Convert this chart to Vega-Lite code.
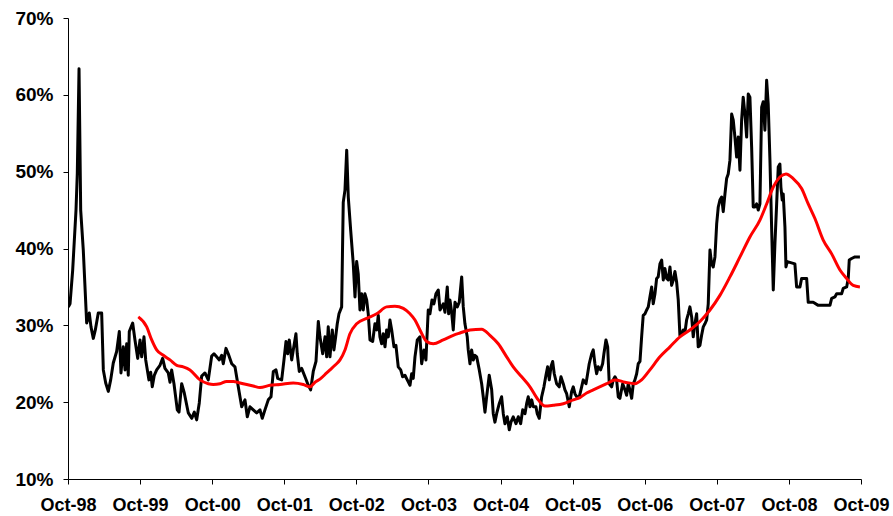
{
  "$schema": "https://vega.github.io/schema/vega-lite/v6.json",
  "width": 793,
  "height": 461,
  "autosize": {"type": "none"},
  "padding": {"left": 68, "top": 18, "right": 32, "bottom": 37},
  "background": "white",
  "config": {
    "view": {"stroke": null},
    "axis": {
      "labelFont": "Liberation Sans",
      "labelFontWeight": "bold",
      "labelColor": "black",
      "domainColor": "black",
      "domainWidth": 1,
      "tickColor": "black",
      "tickWidth": 1,
      "tickSize": 5,
      "grid": false,
      "title": null
    }
  },
  "datasets": {
    "weekly": [
      {"t":1998.754,"v":32.4},{"t":1998.778,"v":32.8},{"t":1998.815,"v":37.2},{"t":1998.861,"v":45.0},{"t":1998.879,"v":49.8},{"t":1998.903,"v":63.4},{"t":1998.926,"v":45.0},{"t":1998.962,"v":39.8},{"t":1999.009,"v":30.3},{"t":1999.045,"v":31.6},{"t":1999.069,"v":29.8},{"t":1999.101,"v":28.3},{"t":1999.129,"v":29.4},{"t":1999.170,"v":31.6},{"t":1999.217,"v":31.6},{"t":1999.240,"v":24.2},{"t":1999.273,"v":22.5},{"t":1999.309,"v":21.4},{"t":1999.342,"v":22.9},{"t":1999.378,"v":25.1},{"t":1999.425,"v":26.6},{"t":1999.462,"v":29.2},{"t":1999.485,"v":23.8},{"t":1999.517,"v":27.2},{"t":1999.541,"v":24.2},{"t":1999.564,"v":27.6},{"t":1999.586,"v":23.5},{"t":1999.600,"v":29.2},{"t":1999.647,"v":30.3},{"t":1999.679,"v":28.1},{"t":1999.717,"v":25.7},{"t":1999.749,"v":28.1},{"t":1999.772,"v":25.9},{"t":1999.804,"v":28.5},{"t":1999.828,"v":25.5},{"t":1999.873,"v":22.9},{"t":1999.897,"v":23.9},{"t":1999.919,"v":22.0},{"t":1999.947,"v":23.5},{"t":1999.980,"v":24.2},
      {"t":2000.026,"v":24.8},{"t":2000.063,"v":25.7},{"t":2000.095,"v":24.4},{"t":2000.141,"v":23.8},{"t":2000.165,"v":22.6},{"t":2000.188,"v":24.2},{"t":2000.220,"v":22.4},{"t":2000.266,"v":19.0},{"t":2000.290,"v":18.7},{"t":2000.327,"v":22.4},{"t":2000.363,"v":21.2},{"t":2000.419,"v":18.6},{"t":2000.466,"v":17.9},{"t":2000.502,"v":18.7},{"t":2000.535,"v":17.7},{"t":2000.571,"v":19.9},{"t":2000.604,"v":23.4},{"t":2000.650,"v":23.8},{"t":2000.696,"v":22.9},{"t":2000.743,"v":26.0},{"t":2000.775,"v":26.3},{"t":2000.812,"v":25.9},{"t":2000.849,"v":25.5},{"t":2000.882,"v":26.1},{"t":2000.904,"v":25.0},{"t":2000.941,"v":27.0},{"t":2000.973,"v":26.3},
      {"t":2001.021,"v":25.0},{"t":2001.066,"v":24.6},{"t":2001.112,"v":22.0},{"t":2001.159,"v":19.4},{"t":2001.205,"v":20.3},{"t":2001.237,"v":18.1},{"t":2001.274,"v":19.4},{"t":2001.320,"v":19.0},{"t":2001.367,"v":18.6},{"t":2001.413,"v":19.0},{"t":2001.445,"v":17.9},{"t":2001.482,"v":19.0},{"t":2001.528,"v":20.3},{"t":2001.566,"v":20.7},{"t":2001.598,"v":24.0},{"t":2001.635,"v":24.2},{"t":2001.659,"v":23.1},{"t":2001.714,"v":22.9},{"t":2001.746,"v":25.5},{"t":2001.774,"v":27.9},{"t":2001.797,"v":26.3},{"t":2001.819,"v":28.1},{"t":2001.853,"v":25.5},{"t":2001.875,"v":26.8},{"t":2001.912,"v":28.9},{"t":2001.930,"v":26.3},{"t":2001.958,"v":24.0},{"t":2001.991,"v":24.4},
      {"t":2002.037,"v":23.3},{"t":2002.083,"v":22.2},{"t":2002.116,"v":21.6},{"t":2002.152,"v":24.0},{"t":2002.190,"v":25.3},{"t":2002.222,"v":30.5},{"t":2002.245,"v":28.5},{"t":2002.283,"v":26.3},{"t":2002.315,"v":28.5},{"t":2002.338,"v":25.9},{"t":2002.360,"v":29.8},{"t":2002.384,"v":25.9},{"t":2002.416,"v":29.4},{"t":2002.439,"v":26.8},{"t":2002.463,"v":28.5},{"t":2002.485,"v":30.2},{"t":2002.509,"v":31.5},{"t":2002.546,"v":32.4},{"t":2002.568,"v":46.0},{"t":2002.592,"v":47.6},{"t":2002.616,"v":52.8},{"t":2002.638,"v":46.7},{"t":2002.671,"v":42.4},{"t":2002.707,"v":38.0},{"t":2002.731,"v":33.7},{"t":2002.754,"v":38.3},{"t":2002.776,"v":36.7},{"t":2002.800,"v":32.0},{"t":2002.824,"v":34.1},{"t":2002.846,"v":32.0},{"t":2002.869,"v":34.1},{"t":2002.893,"v":33.3},{"t":2002.915,"v":31.5},{"t":2002.939,"v":28.1},{"t":2002.976,"v":27.9},
      {"t":2003.008,"v":30.2},{"t":2003.032,"v":29.4},{"t":2003.054,"v":31.3},{"t":2003.077,"v":28.5},{"t":2003.101,"v":27.6},{"t":2003.123,"v":28.9},{"t":2003.147,"v":27.2},{"t":2003.170,"v":29.4},{"t":2003.193,"v":28.5},{"t":2003.216,"v":30.7},{"t":2003.240,"v":29.4},{"t":2003.272,"v":27.2},{"t":2003.299,"v":27.4},{"t":2003.331,"v":24.6},{"t":2003.365,"v":24.2},{"t":2003.392,"v":23.3},{"t":2003.424,"v":23.5},{"t":2003.456,"v":22.9},{"t":2003.494,"v":22.2},{"t":2003.517,"v":23.7},{"t":2003.539,"v":23.1},{"t":2003.563,"v":25.9},{"t":2003.595,"v":28.1},{"t":2003.632,"v":28.5},{"t":2003.656,"v":25.0},{"t":2003.688,"v":26.8},{"t":2003.715,"v":25.5},{"t":2003.747,"v":32.0},{"t":2003.771,"v":31.5},{"t":2003.799,"v":33.3},{"t":2003.826,"v":32.8},{"t":2003.854,"v":34.1},{"t":2003.886,"v":34.6},{"t":2003.910,"v":32.0},{"t":2003.933,"v":32.4},{"t":2003.955,"v":32.8},{"t":2003.979,"v":31.7},
      {"t":2004.011,"v":35.0},{"t":2004.030,"v":31.5},{"t":2004.048,"v":33.3},{"t":2004.072,"v":31.7},{"t":2004.094,"v":29.4},{"t":2004.118,"v":33.0},{"t":2004.150,"v":32.4},{"t":2004.177,"v":33.0},{"t":2004.211,"v":36.3},{"t":2004.233,"v":32.4},{"t":2004.256,"v":30.2},{"t":2004.288,"v":28.5},{"t":2004.302,"v":26.8},{"t":2004.326,"v":25.0},{"t":2004.349,"v":26.8},{"t":2004.372,"v":25.5},{"t":2004.395,"v":26.1},{"t":2004.419,"v":25.9},{"t":2004.455,"v":24.2},{"t":2004.488,"v":22.4},{"t":2004.510,"v":20.7},{"t":2004.534,"v":18.7},{"t":2004.557,"v":20.7},{"t":2004.593,"v":23.5},{"t":2004.627,"v":21.6},{"t":2004.649,"v":18.5},{"t":2004.672,"v":17.4},{"t":2004.696,"v":18.5},{"t":2004.732,"v":19.8},{"t":2004.765,"v":20.7},{"t":2004.788,"v":18.5},{"t":2004.811,"v":17.2},{"t":2004.843,"v":18.1},{"t":2004.871,"v":16.4},{"t":2004.894,"v":17.4},{"t":2004.926,"v":18.1},{"t":2004.964,"v":17.2},{"t":2004.996,"v":18.1},
      {"t":2005.029,"v":17.2},{"t":2005.057,"v":19.0},{"t":2005.089,"v":18.5},{"t":2005.112,"v":19.8},{"t":2005.134,"v":20.7},{"t":2005.158,"v":19.4},{"t":2005.182,"v":20.3},{"t":2005.204,"v":19.4},{"t":2005.241,"v":19.4},{"t":2005.259,"v":18.5},{"t":2005.287,"v":17.9},{"t":2005.320,"v":20.7},{"t":2005.352,"v":22.0},{"t":2005.380,"v":23.5},{"t":2005.403,"v":24.6},{"t":2005.426,"v":22.9},{"t":2005.449,"v":24.6},{"t":2005.473,"v":25.3},{"t":2005.495,"v":23.7},{"t":2005.528,"v":22.4},{"t":2005.564,"v":22.0},{"t":2005.588,"v":23.3},{"t":2005.620,"v":22.4},{"t":2005.643,"v":21.6},{"t":2005.667,"v":21.1},{"t":2005.703,"v":19.4},{"t":2005.736,"v":21.4},{"t":2005.759,"v":22.0},{"t":2005.782,"v":21.1},{"t":2005.806,"v":20.7},{"t":2005.842,"v":20.7},{"t":2005.875,"v":22.0},{"t":2005.897,"v":22.9},{"t":2005.935,"v":22.4},{"t":2005.958,"v":23.7},{"t":2005.980,"v":25.0},
      {"t":2006.014,"v":26.3},{"t":2006.036,"v":26.8},{"t":2006.059,"v":25.0},{"t":2006.083,"v":23.7},{"t":2006.105,"v":24.6},{"t":2006.138,"v":24.2},{"t":2006.166,"v":25.0},{"t":2006.184,"v":26.3},{"t":2006.212,"v":28.1},{"t":2006.236,"v":27.2},{"t":2006.258,"v":22.4},{"t":2006.291,"v":22.0},{"t":2006.313,"v":22.9},{"t":2006.337,"v":23.3},{"t":2006.360,"v":22.9},{"t":2006.383,"v":20.7},{"t":2006.406,"v":20.5},{"t":2006.444,"v":22.4},{"t":2006.476,"v":21.6},{"t":2006.499,"v":20.9},{"t":2006.521,"v":22.4},{"t":2006.545,"v":21.6},{"t":2006.569,"v":20.5},{"t":2006.591,"v":22.4},{"t":2006.614,"v":22.9},{"t":2006.638,"v":23.7},{"t":2006.660,"v":25.0},{"t":2006.684,"v":25.3},{"t":2006.707,"v":28.5},{"t":2006.729,"v":31.3},{"t":2006.753,"v":31.5},{"t":2006.777,"v":32.0},{"t":2006.799,"v":32.4},{"t":2006.822,"v":33.7},{"t":2006.846,"v":35.0},{"t":2006.868,"v":32.8},{"t":2006.892,"v":34.1},{"t":2006.915,"v":36.1},{"t":2006.937,"v":36.3},{"t":2006.961,"v":38.0},{"t":2006.985,"v":38.5},
      {"t":2007.007,"v":35.9},{"t":2007.030,"v":37.4},{"t":2007.054,"v":36.1},{"t":2007.076,"v":35.9},{"t":2007.100,"v":37.6},{"t":2007.123,"v":35.2},{"t":2007.146,"v":35.9},{"t":2007.169,"v":37.0},{"t":2007.193,"v":35.6},{"t":2007.215,"v":33.3},{"t":2007.238,"v":28.7},{"t":2007.262,"v":28.9},{"t":2007.284,"v":29.4},{"t":2007.308,"v":29.1},{"t":2007.331,"v":30.7},{"t":2007.354,"v":31.5},{"t":2007.377,"v":32.4},{"t":2007.401,"v":31.1},{"t":2007.423,"v":28.5},{"t":2007.446,"v":30.2},{"t":2007.470,"v":31.5},{"t":2007.492,"v":27.2},{"t":2007.516,"v":27.4},{"t":2007.539,"v":28.7},{"t":2007.562,"v":29.8},{"t":2007.585,"v":30.2},{"t":2007.609,"v":30.7},{"t":2007.631,"v":32.8},{"t":2007.655,"v":39.8},{"t":2007.678,"v":38.0},{"t":2007.700,"v":37.6},{"t":2007.724,"v":38.9},{"t":2007.748,"v":43.2},{"t":2007.770,"v":45.4},{"t":2007.793,"v":46.3},{"t":2007.817,"v":46.7},{"t":2007.839,"v":44.8},{"t":2007.863,"v":47.1},{"t":2007.886,"v":49.1},{"t":2007.908,"v":49.7},{"t":2007.932,"v":51.5},{"t":2007.956,"v":57.5},{"t":2007.978,"v":56.7},
      {"t":2008.001,"v":54.5},{"t":2008.025,"v":51.9},{"t":2008.047,"v":54.5},{"t":2008.071,"v":50.2},{"t":2008.094,"v":56.7},{"t":2008.116,"v":59.7},{"t":2008.140,"v":57.5},{"t":2008.164,"v":54.5},{"t":2008.186,"v":60.1},{"t":2008.209,"v":59.7},{"t":2008.233,"v":53.2},{"t":2008.255,"v":45.4},{"t":2008.279,"v":45.4},{"t":2008.302,"v":45.8},{"t":2008.325,"v":45.0},{"t":2008.348,"v":45.8},{"t":2008.372,"v":58.4},{"t":2008.394,"v":59.1},{"t":2008.417,"v":55.4},{"t":2008.441,"v":61.9},{"t":2008.463,"v":58.8},{"t":2008.487,"v":51.5},{"t":2008.510,"v":42.8},{"t":2008.533,"v":34.6},{"t":2008.556,"v":40.6},{"t":2008.580,"v":45.8},{"t":2008.602,"v":50.6},{"t":2008.625,"v":51.0},{"t":2008.639,"v":48.0},{"t":2008.657,"v":46.3},{"t":2008.671,"v":47.1},{"t":2008.695,"v":42.8},{"t":2008.709,"v":37.6},{"t":2008.727,"v":38.3},{"t":2008.833,"v":38.0},{"t":2008.857,"v":35.0},{"t":2008.903,"v":35.0},{"t":2008.926,"v":36.1},{"t":2008.996,"v":36.1},
      {"t":2009.018,"v":33.0},{"t":2009.087,"v":33.0},{"t":2009.157,"v":32.6},{"t":2009.319,"v":32.6},{"t":2009.343,"v":33.5},{"t":2009.388,"v":33.7},{"t":2009.412,"v":34.1},{"t":2009.481,"v":34.1},{"t":2009.503,"v":34.8},{"t":2009.551,"v":35.0},{"t":2009.573,"v":36.1},{"t":2009.587,"v":38.5},{"t":2009.620,"v":38.7},{"t":2009.666,"v":38.9},{"t":2009.735,"v":38.9}
    ],
    "average": [
      {"t":1999.725,"v":31.1},{"t":1999.842,"v":29.8},{"t":1999.911,"v":28.1},{"t":1999.980,"v":26.8},{"t":2000.072,"v":26.1},{"t":2000.165,"v":25.5},{"t":2000.258,"v":24.8},{"t":2000.349,"v":24.6},{"t":2000.442,"v":24.2},{"t":2000.581,"v":22.9},{"t":2000.696,"v":22.4},{"t":2000.765,"v":22.3},{"t":2000.858,"v":22.4},{"t":2000.951,"v":22.7},{"t":2001.043,"v":22.7},{"t":2001.136,"v":22.5},{"t":2001.229,"v":22.3},{"t":2001.320,"v":22.1},{"t":2001.413,"v":21.9},{"t":2001.552,"v":22.2},{"t":2001.690,"v":22.3},{"t":2001.875,"v":22.5},{"t":2002.014,"v":22.3},{"t":2002.107,"v":22.0},{"t":2002.176,"v":22.6},{"t":2002.245,"v":23.0},{"t":2002.338,"v":23.8},{"t":2002.384,"v":24.2},{"t":2002.453,"v":24.8},{"t":2002.523,"v":25.5},{"t":2002.592,"v":26.8},{"t":2002.661,"v":28.9},{"t":2002.754,"v":30.2},{"t":2002.893,"v":30.9},{"t":2003.032,"v":31.5},{"t":2003.170,"v":32.4},{"t":2003.285,"v":32.5},{"t":2003.401,"v":32.2},{"t":2003.494,"v":31.5},{"t":2003.563,"v":30.7},{"t":2003.632,"v":29.4},{"t":2003.725,"v":27.9},{"t":2003.817,"v":27.6},{"t":2003.955,"v":28.1},{"t":2004.094,"v":28.7},{"t":2004.187,"v":29.0},{"t":2004.326,"v":29.4},{"t":2004.488,"v":29.5},{"t":2004.603,"v":28.7},{"t":2004.718,"v":27.6},{"t":2004.835,"v":25.9},{"t":2004.926,"v":24.6},{"t":2005.043,"v":23.3},{"t":2005.158,"v":22.0},{"t":2005.273,"v":20.3},{"t":2005.366,"v":19.5},{"t":2005.481,"v":19.6},{"t":2005.620,"v":19.8},{"t":2005.759,"v":20.3},{"t":2005.851,"v":20.6},{"t":2005.944,"v":21.2},{"t":2006.036,"v":21.6},{"t":2006.222,"v":22.4},{"t":2006.337,"v":22.9},{"t":2006.476,"v":22.6},{"t":2006.614,"v":22.4},{"t":2006.707,"v":22.9},{"t":2006.822,"v":24.2},{"t":2006.961,"v":25.9},{"t":2007.100,"v":27.2},{"t":2007.238,"v":28.5},{"t":2007.377,"v":29.4},{"t":2007.516,"v":30.5},{"t":2007.655,"v":32.0},{"t":2007.793,"v":33.9},{"t":2007.932,"v":36.3},{"t":2008.071,"v":38.9},{"t":2008.209,"v":41.5},{"t":2008.348,"v":43.7},{"t":2008.441,"v":45.8},{"t":2008.533,"v":48.0},{"t":2008.625,"v":49.3},{"t":2008.709,"v":49.7},{"t":2008.810,"v":49.1},{"t":2008.926,"v":47.8},{"t":2009.018,"v":45.8},{"t":2009.111,"v":43.9},{"t":2009.226,"v":41.1},{"t":2009.343,"v":39.3},{"t":2009.458,"v":37.2},{"t":2009.551,"v":36.1},{"t":2009.642,"v":35.2},{"t":2009.735,"v":35.0}
    ]
  },
  "encoding": {
    "x": {
      "field": "t",
      "type": "quantitative",
      "scale": {"domain": [1998.75, 2009.75], "nice": false, "zero": false},
      "axis": {
        "values": [1998.75, 1999.75, 2000.75, 2001.75, 2002.75, 2003.75, 2004.75, 2005.75, 2006.75, 2007.75, 2008.75, 2009.75],
        "labelExpr": "'Oct-' + (floor(datum.value) % 100 < 10 ? '0' : '') + (floor(datum.value) % 100)",
        "labelFontSize": 18,
        "labelPadding": 12,
        "labelOverlap": false,
        "labelFlush": false
      }
    },
    "y": {
      "field": "v",
      "type": "quantitative",
      "scale": {"domain": [10, 70], "nice": false, "zero": false},
      "axis": {
        "values": [10, 20, 30, 40, 50, 60, 70],
        "labelExpr": "datum.value + '%'",
        "labelFontSize": 19,
        "labelPadding": 10
      }
    }
  },
  "layer": [
    {
      "data": {"name": "weekly"},
      "mark": {"type": "line", "color": "black", "strokeWidth": 3, "strokeJoin": "round", "clip": true}
    },
    {
      "data": {"name": "average"},
      "mark": {"type": "line", "color": "#ff0000", "strokeWidth": 3, "strokeJoin": "round", "interpolate": "monotone"}
    }
  ]
}
